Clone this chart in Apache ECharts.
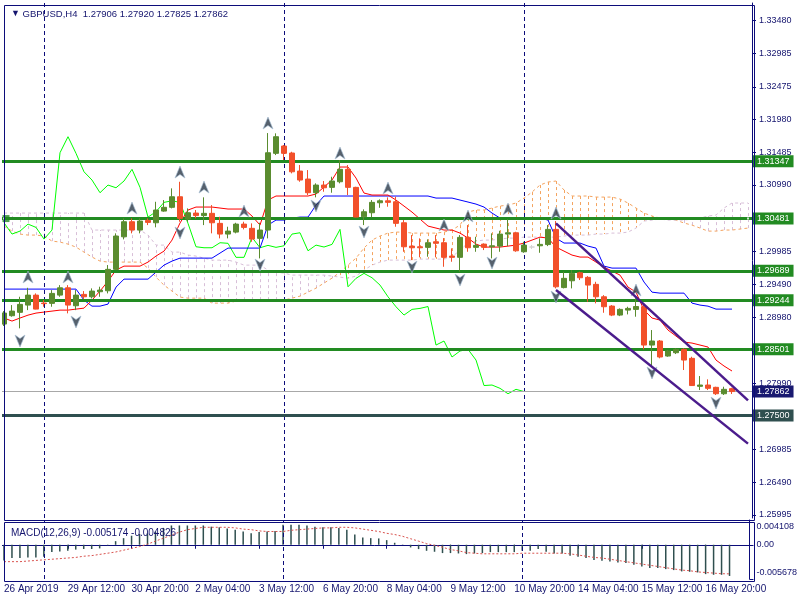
<!DOCTYPE html>
<html><head><meta charset="utf-8">
<script src="https://cdn.jsdelivr.net/npm/echarts@6/dist/echarts.min.js"></script>
<style>html,body{margin:0;padding:0;background:#fff}#c{width:800px;height:600px}</style>
</head><body><div id="c"></div>
<script>
// ---------- categories (H4 bars) ----------
const days = ['26 Apr','29 Apr','30 Apr','1 May','2 May','3 May','6 May','7 May','8 May','9 May','10 May','13 May','14 May','15 May','16 May','17 May'];
const hours = ['00:00','04:00','08:00','12:00','16:00','20:00'];
const categories = [];
days.forEach((d, k) => hours.forEach((h, j) => {
  if ((k === 0 && j === 0) || (k === days.length - 1 && j > 4)) return;
  categories.push(d + ' ' + h);
}));
const xTickLabels = ['26 Apr 2019','29 Apr 12:00','30 Apr 20:00','2 May 04:00','3 May 12:00','6 May 20:00','8 May 04:00','9 May 12:00','10 May 20:00','14 May 04:00','15 May 12:00','16 May 20:00'];
const separatorIdx = [5, 35, 65];

// ---------- price axis ----------
const yTickValues = [1.33480,1.32985,1.32475,1.31980,1.31485,1.30990,1.29985,1.29490,1.28980,1.27990,1.26985,1.26490,1.25995];
const priceMin = 1.25948, priceMax = 1.33744;

// ---------- candles [open, close, low, high] ----------
const candles = [
[1.28884,1.29050,1.28854,1.29080],[1.29010,1.29080,1.28995,1.29171],[1.29061,1.29182,1.28819,1.29297],[1.29171,1.29322,1.29095,1.29433],
[1.29322,1.29110,1.29106,1.29348],[1.29202,1.29193,1.29146,1.29246],[1.29197,1.29348,1.29146,1.29398],[1.29322,1.29433,1.29297,1.29473],
[1.29433,1.29171,1.29046,1.29473],[1.29161,1.29322,1.29095,1.29398],[1.29333,1.29297,1.29262,1.29383],[1.29297,1.29383,1.29272,1.29424],
[1.29373,1.29398,1.29297,1.29449],[1.29388,1.29712,1.29348,1.29777],[1.29712,1.30216,1.29701,1.30257],[1.30205,1.30433,1.30166,1.30484],
[1.30433,1.30307,1.30257,1.30484],[1.30307,1.30443,1.30257,1.30484],[1.30453,1.30423,1.30382,1.30484],[1.30417,1.30610,1.30348,1.30735],
[1.30594,1.30651,1.30584,1.30761],[1.30651,1.30811,1.30635,1.30938],[1.30811,1.30484,1.30433,1.31038],[1.30473,1.30569,1.30433,1.30635],
[1.30564,1.30526,1.30484,1.30610],[1.30526,1.30560,1.30382,1.30802],[1.30560,1.30417,1.30257,1.30685],[1.30408,1.30246,1.30181,1.30508],
[1.30246,1.30291,1.30181,1.30357],[1.30276,1.30397,1.30257,1.30417],[1.30397,1.30347,1.30317,1.30433],[1.30333,1.30170,1.30130,1.30408],
[1.30181,1.30307,1.29878,1.30417],[1.30307,1.31477,1.30181,1.31775],[1.31468,1.31720,1.31442,1.31771],[1.31579,1.31468,1.31367,1.31594],
[1.31473,1.31189,1.31165,1.31492],[1.31200,1.31064,1.31038,1.31291],[1.31079,1.30872,1.30837,1.31215],[1.30872,1.30988,1.30802,1.31014],
[1.30988,1.30947,1.30887,1.31049],[1.30953,1.31049,1.30872,1.31114],[1.31038,1.31226,1.31014,1.31367],[1.31226,1.30953,1.30837,1.31291],
[1.30953,1.30503,1.30499,1.30962],[1.30508,1.30584,1.30382,1.30620],[1.30569,1.30726,1.30499,1.30761],[1.30720,1.30750,1.30644,1.30772],
[1.30750,1.30726,1.30660,1.30802],[1.30735,1.30408,1.30357,1.30811],[1.30417,1.30054,1.29978,1.30458],[1.30064,1.30039,1.29852,1.30231],
[1.30054,1.30039,1.29894,1.30181],[1.30045,1.30115,1.29903,1.30166],[1.30130,1.30106,1.29894,1.30231],[1.30115,1.29894,1.29751,1.30185],
[1.29913,1.29894,1.29827,1.30030],[1.29894,1.30196,1.29676,1.30231],[1.30196,1.30039,1.29978,1.30382],[1.30045,1.30075,1.29978,1.30205],
[1.30094,1.30045,1.30004,1.30105],[1.30054,1.30069,1.29878,1.30257],[1.30064,1.30246,1.29978,1.30296],[1.30246,1.30266,1.30064,1.30469],
[1.30266,1.29993,1.29978,1.30281],[1.29978,1.30079,1.29963,1.30130],[1.30050,1.30050,1.30020,1.30080],[1.30069,1.30090,1.29963,1.30181],
[1.30087,1.30317,1.30064,1.30382],[1.30317,1.29448,1.29424,1.30443],[1.29436,1.29576,1.29424,1.29676],[1.29539,1.29651,1.29424,1.29701],
[1.29660,1.29585,1.29550,1.29676],[1.29591,1.29474,1.29221,1.29610],[1.29485,1.29297,1.29197,1.29524],[1.29297,1.29146,1.29055,1.29322],
[1.29156,1.29020,1.29004,1.29171],[1.29020,1.29106,1.29004,1.29121],[1.29095,1.29121,1.29030,1.29146],[1.29106,1.29149,1.28995,1.29276],
[1.29146,1.28566,1.28501,1.29187],[1.28566,1.28627,1.28233,1.28793],[1.28627,1.28385,1.28365,1.28642],[1.28400,1.28476,1.28389,1.28491],
[1.28450,1.28501,1.28430,1.28516],[1.28501,1.28339,1.28188,1.28516],[1.28365,1.27953,1.27946,1.28389],[1.27941,1.27961,1.27885,1.28097],
[1.27961,1.27911,1.27885,1.28047],[1.27926,1.27829,1.27810,1.27935],[1.27829,1.27896,1.27810,1.27935],[1.27906,1.27862,1.27825,1.27920]
];

// ---------- Ichimoku ----------
const tenkan = [1.28975,1.28929,1.28975,1.29019,1.29050,1.29065,1.29080,1.29095,1.29095,1.29110,1.29125,1.29246,1.29383,1.29534,1.29701,1.29761,
1.29761,1.29761,1.29822,1.29913,1.29988,1.30155,1.30413,1.30610,1.30655,1.30655,1.30655,1.30640,1.30625,1.30625,1.30625,1.30519,
1.30382,1.30761,1.30822,1.30822,1.30822,1.30822,1.30822,1.30852,1.30958,1.31064,1.31261,1.31261,1.31094,1.30867,1.30837,1.30837,
1.30837,1.30761,1.30670,1.30579,1.30473,1.30367,1.30337,1.30307,1.30307,1.30261,1.30185,1.30094,1.30049,1.30049,1.30049,1.30064,
1.30079,1.30110,1.30155,1.30200,1.30185,1.30049,1.29988,1.29928,1.29898,1.29898,1.29822,1.29746,1.29685,1.29625,1.29443,1.29367,
1.29095,1.28975,1.28944,1.28793,1.28702,1.28611,1.28596,1.28566,1.28536,1.28339,1.28249,1.28173];
const kijun = [1.29413,1.29413,1.29413,1.29413,1.29413,1.29413,1.29413,1.29413,1.29413,1.29413,1.29246,1.29155,1.29155,1.29186,1.29443,1.29564,
1.29564,1.29564,1.29564,1.29670,1.29776,1.29837,1.29882,1.29882,1.29882,1.29882,1.29882,1.29958,1.30034,1.30034,1.30034,1.30034,
1.30034,1.30382,1.30458,1.30458,1.30488,1.30503,1.30503,1.30685,1.30822,1.30822,1.30822,1.30822,1.30822,1.30822,1.30822,1.30822,
1.30822,1.30822,1.30822,1.30822,1.30822,1.30822,1.30791,1.30791,1.30791,1.30761,1.30731,1.30700,1.30655,1.30564,1.30488,1.30488,
1.30488,1.30488,1.30488,1.30488,1.30458,1.30185,1.30110,1.30110,1.30110,1.30064,1.30034,1.29761,1.29731,1.29731,1.29731,1.29731,
1.29520,1.29367,1.29352,1.29352,1.29352,1.29352,1.29201,1.29171,1.29155,1.29110,1.29110,1.29110];
const chikou = [1.30417,1.30246,1.30291,1.30397,1.30347,1.30170,1.30307,1.31477,1.31720,1.31468,1.31189,1.31064,1.30872,1.30988,1.30947,1.31049,
1.31226,1.30953,1.30503,1.30584,1.30726,1.30750,1.30726,1.30408,1.30054,1.30039,1.30039,1.30115,1.30106,1.29894,1.29894,1.30196,
1.30039,1.30075,1.30045,1.30069,1.30246,1.30266,1.29993,1.30079,1.30050,1.30090,1.30317,1.29448,1.29576,1.29651,1.29585,1.29474,
1.29297,1.29146,1.29020,1.29106,1.29121,1.29149,1.28566,1.28627,1.28385,1.28476,1.28501,1.28339,1.27953,1.27961,1.27911,1.27829,
1.27896,1.27862];
const senkouA = [1.30367,1.30291,1.30246,1.30231,1.30231,1.30216,1.30140,1.30125,1.30094,1.30049,1.29973,1.29898,1.29837,1.29822,1.29822,1.29822,
1.29822,1.29822,1.29731,1.29594,1.29473,1.29383,1.29292,1.29276,1.29276,1.29276,1.29201,1.29201,1.29201,1.29231,1.29246,1.29246,
1.29246,1.29246,1.29246,1.29246,1.29276,1.29307,1.29367,1.29428,1.29504,1.29579,1.29670,1.29776,1.29882,1.30034,1.30155,1.30216,
1.30261,1.30276,1.30276,1.30261,1.30261,1.30261,1.30261,1.30276,1.30307,1.30382,1.30579,1.30610,1.30610,1.30640,1.30670,1.30685,
1.30716,1.30791,1.30882,1.30988,1.31034,1.31049,1.30913,1.30822,1.30822,1.30822,1.30806,1.30806,1.30806,1.30776,1.30716,1.30640,
1.30564,1.30519,1.30488,1.30473,1.30458,1.30413,1.30382,1.30337,1.30291,1.30291,1.30307,1.30307,1.30322,1.30337];
const senkouB = [1.30564,1.30564,1.30564,1.30564,1.30564,1.30564,1.30564,1.30564,1.30564,1.30564,1.30564,1.30307,1.30307,1.30307,1.30307,1.30307,
1.30307,1.30307,1.30231,1.30079,1.30079,1.29973,1.29973,1.29928,1.29913,1.29882,1.29852,1.29852,1.29852,1.29822,1.29776,1.29776,
1.29776,1.29701,1.29670,1.29655,1.29625,1.29625,1.29625,1.29625,1.29625,1.29610,1.29594,1.29579,1.29610,1.29701,1.29776,1.29822,
1.29852,1.29852,1.29852,1.29852,1.29867,1.29867,1.29867,1.29867,1.29898,1.30004,1.30110,1.30140,1.30155,1.30155,1.30170,1.30185,
1.30185,1.30200,1.30200,1.30200,1.30200,1.30200,1.30216,1.30231,1.30231,1.30231,1.30246,1.30246,1.30261,1.30261,1.30276,1.30337,
1.30443,1.30458,1.30473,1.30458,1.30458,1.30458,1.30473,1.30488,1.30519,1.30534,1.30640,1.30716,1.30716,1.30716];

// ---------- fractals [barIndex, price] ----------
const upFractals = [[3,1.29596],[8,1.29596],[16,1.30640],[22,1.31185],[25,1.30958],[30,1.30595],[33,1.31927],[42,1.31473],[48,1.30943],[55,1.30383],[58,1.30519],[63,1.30625],[69,1.30565],[79,1.29399]];
const downFractals = [[2,1.28627],[9,1.28915],[22,1.30262],[32,1.29777],[39,1.30671],[45,1.30277],[51,1.29747],[57,1.29550],[61,1.29808],[69,1.29293],[81,1.28143],[89,1.27688]];

// ---------- objects ----------
const levels = [1.31347, 1.30481, 1.29689, 1.29244, 1.28501];
const support = 1.27500;
const lastPrice = 1.27862;
const selectedLevel = 1.30481;
const selectedAnchors = [0, 93];
const upperTrend = [[69, 1.30409], [93, 1.27729]];
const lowerTrend = [[69, 1.29399], [93, 1.27074]];

// ---------- MACD ----------
const macdMin = -0.005678, macdMax = 0.004108;
const macdTicks = [0.004108, 0, -0.005678];
const macdTickLabels = ['0.004108', '0.00', '-0.005678'];
const macdMain = [-0.0026,-0.0022,-0.0022,-0.0021,-0.0021,-0.0020,-0.0012,-0.0011,-0.0010,-0.0008,-0.0007,-0.0007,-0.0006,-0.0001,0.0006,0.0011,
0.0015,0.0018,0.0019,0.0022,0.0028,0.0032,0.0032,0.0032,0.0032,0.0032,0.0030,0.0029,0.0027,0.0025,0.0022,0.0019,
0.0021,0.0022,0.0023,0.0033,0.0033,0.0033,0.0032,0.0030,0.0029,0.0029,0.0028,0.0025,0.0017,0.0012,0.0011,0.00105,
0.00077,0.00033,0.00005,-0.00044,-0.00072,-0.0010,-0.00116,-0.00138,-0.00138,-0.00144,-0.00155,-0.00144,-0.00138,-0.00122,-0.00122,-0.00122,
-0.00122,-0.0010,-0.0010,-0.00072,-0.00116,-0.00144,-0.00144,-0.00182,-0.0020,-0.00221,-0.00254,-0.00265,-0.00277,-0.00293,-0.00304,-0.00332,
-0.0036,-0.00387,-0.00387,-0.00404,-0.0042,-0.00442,-0.00448,-0.00459,-0.00487,-0.00498,-0.00498,-0.005174];
const macdSignal = [-0.0028,-0.0028,-0.0028,-0.0027,-0.0026,-0.0025,-0.0024,-0.0023,-0.0022,-0.0021,-0.0019,-0.0018,-0.0016,-0.0014,-0.0012,-0.0009,
-0.0006,-0.0003,0.0001,0.0006,0.0011,0.0016,0.0021,0.0025,0.0027,0.0029,0.0029,0.0029,0.0029,0.0028,0.0026,0.0025,
0.0023,0.0022,0.0022,0.0022,0.0024,0.0025,0.0026,0.0027,0.0028,0.0028,0.0029,0.0029,0.0028,0.0026,0.0024,0.0022,
0.0019,0.0017,0.0014,0.0010,0.0006,0.0002,-0.0001,-0.0004,-0.0008,-0.0010,-0.0013,-0.0014,-0.0015,-0.0015,-0.0015,-0.0015,
-0.0015,-0.0014,-0.0014,-0.0014,-0.0014,-0.0014,-0.0014,-0.0015,-0.0017,-0.0019,-0.0021,-0.0022,-0.0024,-0.0026,-0.0028,-0.0030,
-0.0032,-0.0034,-0.0036,-0.0038,-0.0040,-0.0042,-0.0043,-0.0045,-0.0046,-0.0047,-0.0048,-0.004826];

// ---------- styles ----------
const NAVY = '#0c0c7a';
const TXT = '#14146e';
const FONT = "'Liberation Sans', Arial, sans-serif";
const UP = '#5a8c2f', DOWN = '#f2502a';
const LEVEL = '#228b22', SUPPORT = '#2f4f4f', PRICE_BG = '#191970';

const chart = echarts.init(document.getElementById('c'), null, {renderer: 'canvas'});

const sepLine = (cats) => ({
  silent: true, symbol: ['none', 'none'], label: {show: false},
  lineStyle: {color: NAVY, type: [4, 3], width: 1},
  data: separatorIdx.map(i => ({xAxis: cats[i]}))
});

const levelItems = levels.map(v => ({yAxis: v, lineStyle: {color: LEVEL, width: 3, type: 'solid'}, label: {backgroundColor: LEVEL}}));
levelItems.push({yAxis: support, lineStyle: {color: SUPPORT, width: 3, type: 'solid'}, label: {backgroundColor: SUPPORT}});
levelItems.unshift({yAxis: lastPrice, lineStyle: {color: '#a8a8a8', width: 1, type: 'solid'}, label: {backgroundColor: PRICE_BG}});

const arrowUp = 'path://M5,0 L10,12 L5,8.5 L0,12 Z';

const option = {
  animation: false,
  backgroundColor: '#ffffff',
  textStyle: {fontFamily: FONT},
  title: [
    {left: 6, top: 4, text: '{t|\u25BC} GBPUSD,H4  1.27906 1.27920 1.27825 1.27862',
     textStyle: {fontSize: 9.5, fontWeight: 'normal', color: TXT, fontFamily: FONT, rich: {t: {fontSize: 9, color: TXT}}}},
    {left: 6, top: 523, text: 'MACD(12,26,9) -0.005174 -0.004826',
     textStyle: {fontSize: 10, fontWeight: 'normal', color: TXT, fontFamily: FONT}}
  ],
  grid: [
    {left: -1, right: 48, top: 3, height: 515},
    {left: -1, right: 48, top: 520, height: 59}
  ],
  xAxis: [
    {type: 'category', gridIndex: 0, data: categories, boundaryGap: true,
     axisLine: {show: false}, axisTick: {show: false}, axisLabel: {show: false}, splitLine: {show: false}},
    {type: 'category', gridIndex: 1, data: categories, boundaryGap: true,
     axisLine: {show: true, lineStyle: {color: NAVY}},
     axisTick: {show: true, interval: 7, alignWithLabel: true, length: 4, lineStyle: {color: NAVY}},
     axisLabel: {interval: 7, align: 'left', margin: 5, fontSize: 10, color: TXT, fontFamily: FONT,
       formatter: (v, i) => xTickLabels[i / 8]},
     splitLine: {show: false}}
  ],
  yAxis: [
    {type: 'value', gridIndex: 0, position: 'right', min: priceMin, max: priceMax, scale: true,
     axisLine: {show: true, lineStyle: {color: NAVY}},
     axisTick: {show: true, length: 4, customValues: yTickValues, lineStyle: {color: NAVY}},
     axisLabel: {customValues: yTickValues, formatter: v => v.toFixed(5), margin: 7, fontSize: 9, color: TXT, fontFamily: FONT},
     splitLine: {show: false}},
    {type: 'value', gridIndex: 1, position: 'right', min: macdMin, max: macdMax,
     axisLine: {show: true, lineStyle: {color: NAVY}},
     axisTick: {show: true, length: 4, customValues: macdTicks, lineStyle: {color: NAVY}},
     axisLabel: {customValues: macdTicks, margin: 7, fontSize: 9, color: TXT, fontFamily: FONT,
       formatter: v => {
         const k = macdTicks.indexOf(v);
         const s = macdTickLabels[k];
         return k === 0 ? '{a|' + s + '}' : (k === 2 ? '{b|' + s + '}' : s);
       },
       rich: {a: {padding: [13, 0, 0, 0], fontSize: 9, color: TXT}, b: {padding: [0, 0, 13, 0], fontSize: 9, color: TXT}}},
     splitLine: {show: false}}
  ],
  graphic: [
    {type: 'rect', left: 0, top: 0, shape: {width: 2, height: 600}, style: {fill: '#ffffff'}, silent: true, z: 99},
    {type: 'rect', left: 2, top: 3, shape: {width: 750, height: 515}, style: {fill: 'none', stroke: NAVY, lineWidth: 1}, silent: true, z: 100},
    {type: 'rect', left: 2, top: 520, shape: {width: 750, height: 59}, style: {fill: 'none', stroke: NAVY, lineWidth: 1}, silent: true, z: 100}
  ],
  series: [
    {name: 'cloud', type: 'custom', xAxisIndex: 0, yAxisIndex: 0, z: 1, silent: true,
     data: senkouA.map((a, i) => [i, a, senkouB[i]]),
     encode: {x: 0, y: [1, 2]},
     renderItem: (params, api) => {
       const i = api.value(0), a = api.value(1), b = api.value(2);
       const p1 = api.coord([i, a]), p2 = api.coord([i, b]);
       const x = Math.round(p1[0]) + 0.5;
       return {type: 'line', shape: {x1: x, y1: p1[1], x2: x, y2: p2[1]},
         style: {stroke: a >= b ? '#f4a460' : '#d8bfd8', lineWidth: 1, lineDash: [3, 3]}};
     }},
    {name: 'Senkou A', type: 'line', data: senkouA, symbol: 'none', z: 2, silent: true,
     lineStyle: {color: '#f4a460', width: 1, type: [3, 3]}},
    {name: 'Senkou B', type: 'line', data: senkouB, symbol: 'none', z: 2, silent: true,
     lineStyle: {color: '#d8bfd8', width: 1, type: [3, 3]}},
    {name: 'Chikou', type: 'line', data: chikou, symbol: 'none', z: 3, silent: true,
     lineStyle: {color: '#00ff00', width: 1}},
    {name: 'Kijun', type: 'line', data: kijun, symbol: 'none', z: 3, silent: true,
     lineStyle: {color: '#0000ff', width: 1}},
    {name: 'Tenkan', type: 'line', data: tenkan, symbol: 'none', z: 3, silent: true,
     lineStyle: {color: '#ff0000', width: 1}, markLine: sepLine(categories)},
    {name: 'levels', type: 'line', data: [], z: 4, silent: true,
     markLine: {silent: true, precision: 5, symbol: ['none', 'none'],
       label: {show: true, position: 'end', distance: 1, color: '#ffffff', fontSize: 9, fontFamily: FONT,
         padding: [2, 4, 1, 4], formatter: p => Number(p.value).toFixed(5)},
       data: levelItems}},
    {name: 'GBPUSD', type: 'candlestick', data: candles, z: 5, barWidth: 5, silent: true,
     itemStyle: {color: UP, color0: DOWN, borderColor: UP, borderColor0: DOWN, borderColorDoji: '#d3d3d3', borderWidth: 1}},
    {name: 'up fractals', type: 'scatter', data: upFractals, symbol: arrowUp, symbolSize: [10, 12], z: 6, silent: true,
     itemStyle: {color: '#2c3a48', borderColor: '#a9c0d6', borderWidth: 0.8}},
    {name: 'down fractals', type: 'scatter', data: downFractals, symbol: arrowUp, symbolRotate: 180, symbolSize: [10, 12], z: 6, silent: true,
     itemStyle: {color: '#2c3a48', borderColor: '#a9c0d6', borderWidth: 0.8}},
    {name: 'anchor', type: 'scatter', data: [[selectedAnchors[0], selectedLevel]], symbol: 'rect', symbolSize: 7, symbolOffset: [2, 0], z: 8, silent: true,
     itemStyle: {color: LEVEL, borderColor: '#ffffff', borderWidth: 0}},
    {name: 'anchor dots', type: 'scatter', data: selectedAnchors.map(i => [i, selectedLevel]), symbol: 'rect', symbolSize: 2, z: 9, silent: true,
     itemStyle: {color: '#ffffff'}},
    {name: 'upper trend', type: 'line', data: upperTrend, symbol: 'none', z: 7, silent: true,
     lineStyle: {color: '#4b1c8c', width: 2.5}},
    {name: 'lower trend', type: 'line', data: lowerTrend, symbol: 'none', z: 7, silent: true,
     lineStyle: {color: '#4b1c8c', width: 2.5}},
    {name: 'MACD', type: 'bar', xAxisIndex: 1, yAxisIndex: 1, data: macdMain, barWidth: 1.5, silent: true,
     itemStyle: {color: '#2f4f4f'}, markLine: sepLine(categories)},
    {name: 'Signal', type: 'line', xAxisIndex: 1, yAxisIndex: 1, data: macdSignal, symbol: 'none', silent: true,
     lineStyle: {color: '#d9534f', width: 1, type: [2, 2]}}
  ]
};
chart.setOption(option);
</script>
</body></html>
